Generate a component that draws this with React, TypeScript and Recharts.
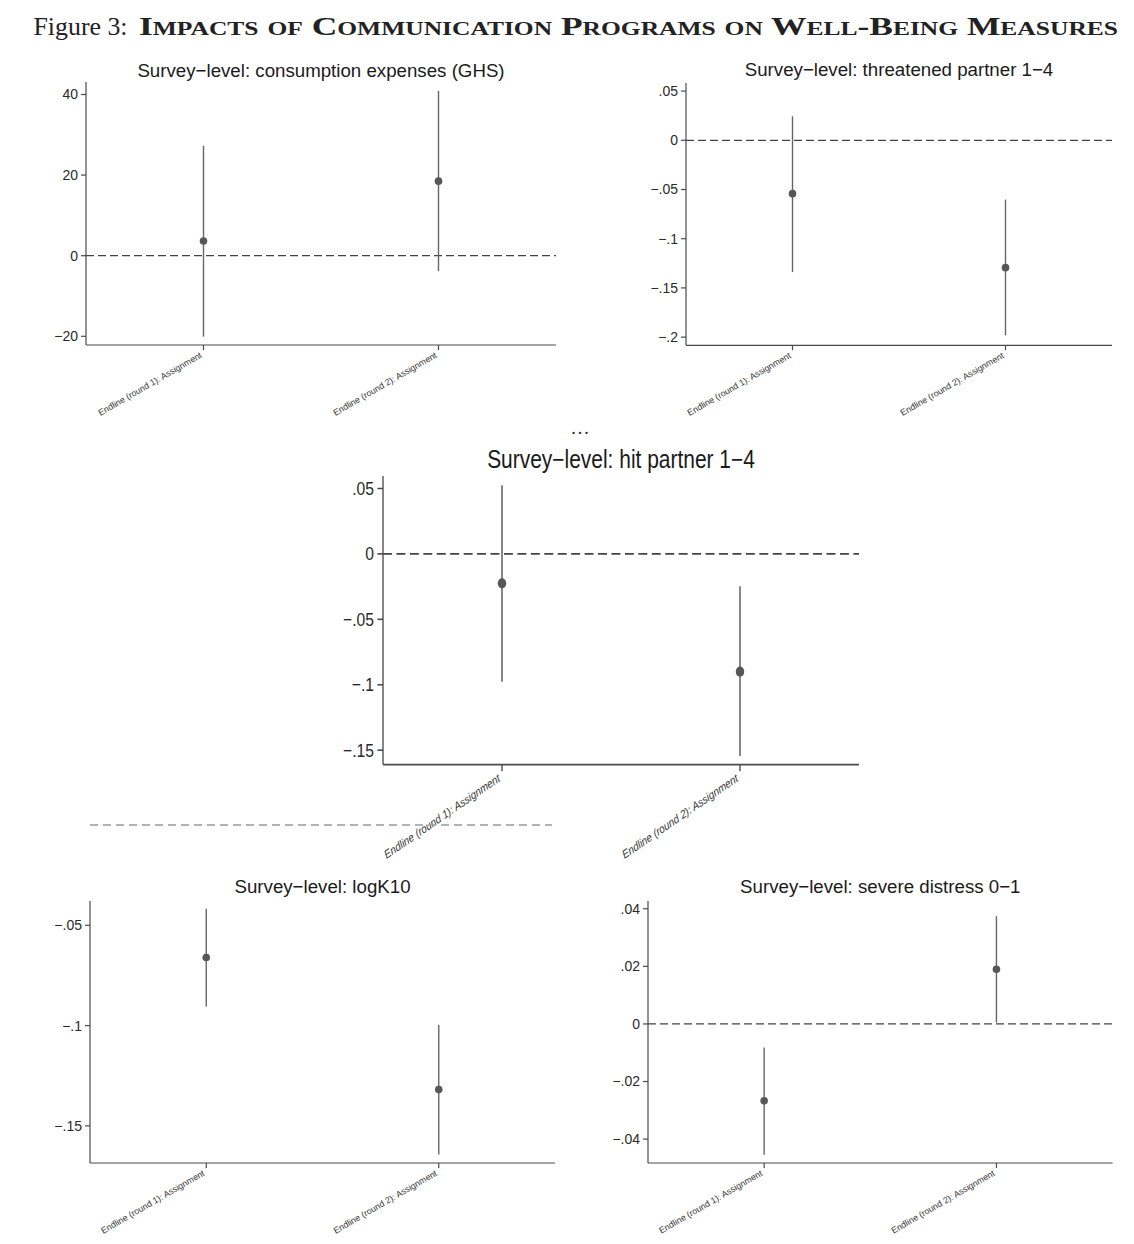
import React from 'react';
import { ComposedChart, Scatter, ErrorBar, XAxis, YAxis, ReferenceLine } from 'recharts';

// categories shared by every panel
const CATEGORIES = ['Endline (round 1): Assignment', 'Endline (round 2): Assignment'];
const CAT_POS = [1, 2];

// consumption expenses (GHS)
const consumptionEst = [3.65, 18.5];
const consumptionLow = [-20.1, -3.8];
const consumptionHigh = [27.3, 40.9];
const consumptionTicks = [-20, 0, 20, 40];

// threatened partner 1-4
const threatenedEst = [-0.0542, -0.1294];
const threatenedLow = [-0.1339, -0.1982];
const threatenedHigh = [0.0244, -0.0603];
const threatenedTicks = [-0.2, -0.15, -0.1, -0.05, 0, 0.05];

// hit partner 1-4
const hitEst = [-0.0225, -0.09];
const hitLow = [-0.0976, -0.1544];
const hitHigh = [0.0524, -0.0248];
const hitTicks = [-0.15, -0.1, -0.05, 0, 0.05];

// logK10
const logK10Est = [-0.0661, -0.1319];
const logK10Low = [-0.0905, -0.1643];
const logK10High = [-0.0418, -0.0997];
const logK10Ticks = [-0.15, -0.1, -0.05];

// severe distress 0-1
const distressEst = [-0.0267, 0.019];
const distressLow = [-0.0454, 0.0005];
const distressHigh = [-0.0082, 0.0374];
const distressTicks = [-0.04, -0.02, 0, 0.02, 0.04];

const SANS = '"Liberation Sans", Arial, Helvetica, sans-serif';
const SERIF = '"Liberation Serif", "Times New Roman", serif';
const AXIS = '#4a4a4a';
const YW = 70; // y axis width
const MT = 6;
const MR = 6;
const XH = 80;

const fmtTick = (v: number) => {
  if (v === 0) return '0';
  const s = Math.abs(v).toString().replace(/^0\./, '.');
  return v < 0 ? '\u2212' + s : s;
};

const buildRows = (est: number[], low: number[], high: number[]) =>
  CAT_POS.map((x, i) => ({ x, est: est[i], err: [est[i] - low[i], high[i] - est[i]] }));

const CatTick = (props: any) => {
  const { x, y, payload, italic } = props;
  const label = CATEGORIES[payload.value - 1];
  return (
    <g transform={`translate(${x - 1},${y + 7}) rotate(-30)`}>
      <text x={0} y={0} textAnchor="end" fontSize={8.8} fill="#333" fontFamily={SANS} fontStyle={italic ? 'italic' : 'normal'}>
        {label}
      </text>
    </g>
  );
};

const Dot = (props: any) => <circle cx={props.cx} cy={props.cy} r={3.8} fill="#575757" />;

interface PanelProps {
  left: number; top: number; w: number; h: number;
  sx?: number; sy?: number;
  title: string; titleDy: number;
  domain: [number, number]; ticks: number[];
  est: number[]; low: number[]; high: number[];
  italic?: boolean;
}

function Panel({ left, top, w, h, sx = 1, sy = 1, title, titleDy, domain, ticks, est, low, high, italic }: PanelProps) {
  const rows = buildRows(est, low, high);
  const zeroInside = domain[0] < 0 && domain[1] > 0;
  return (
    <div style={{ position: 'absolute', left, top, transform: `scale(${sx},${sy})`, transformOrigin: '0 0' }}>
      <svg style={{ position: 'absolute', left: 0, top: titleDy - 30, overflow: 'visible' }} width={w} height={40}>
        <text x={w / 2} y={30} textAnchor="middle" fontSize={18.7} fill="#1a1a1a" fontFamily={SANS}>{title}</text>
      </svg>
      <div style={{ position: 'absolute', left: -YW, top: -MT }}>
        <ComposedChart width={YW + w + MR} height={MT + h + XH} data={rows} margin={{ top: MT, right: MR, left: 0, bottom: 0 }}>
          <XAxis type="number" dataKey="x" domain={[0.5, 2.5]} ticks={CAT_POS} interval={0}
            tick={<CatTick italic={italic} />} tickSize={5} tickMargin={0} height={XH}
            axisLine={{ stroke: AXIS, strokeWidth: 1.2 }} tickLine={{ stroke: AXIS, strokeWidth: 1.2 }} allowDataOverflow />
          <YAxis type="number" dataKey="est" domain={domain} ticks={ticks} interval={0} width={YW} tickFormatter={fmtTick}
            tick={{ fontSize: 14, fill: '#2a2a2a', fontFamily: SANS }} tickSize={5} tickMargin={3}
            axisLine={{ stroke: AXIS, strokeWidth: 1.2 }} tickLine={{ stroke: AXIS, strokeWidth: 1.2 }} allowDataOverflow />
          {zeroInside && <ReferenceLine y={0} stroke="#444" strokeWidth={1.2} strokeDasharray="8 4" />}
          <Scatter dataKey="est" shape={<Dot />} isAnimationActive={false}>
            <ErrorBar dataKey="err" direction="y" width={0} stroke="#666" strokeWidth={1.4} isAnimationActive={false} />
          </Scatter>
        </ComposedChart>
      </div>
    </div>
  );
}

export default function App() {
  return (
    <div style={{ position: 'absolute', left: 0, top: 0, width: 1134, height: 1244, background: '#fff', overflow: 'hidden' }}>
      <svg style={{ position: 'absolute', left: 0, top: 0 }} width={1134} height={50}>
        <text x={33.5} y={35} fontSize={25} fill="#222" fontFamily={SERIF} textLength={94} lengthAdjust="spacingAndGlyphs">Figure 3:</text>
        <text x={139} y={35} fontSize={25} fill="#222" fontFamily={SERIF} fontWeight="bold"
          style={{ fontVariant: 'small-caps' }} textLength={979} lengthAdjust="spacingAndGlyphs">
          Impacts of Communication Programs on Well-Being Measures
        </text>
      </svg>

      <Panel left={86} top={82} w={470} h={263} title={'Survey\u2212level: consumption expenses (GHS)'} titleDy={-5}
        domain={[-22.16, 43.1]} ticks={consumptionTicks} est={consumptionEst} low={consumptionLow} high={consumptionHigh} />
      <Panel left={686} top={82.7} w={426} h={262.3} title={'Survey\u2212level: threatened partner 1\u22124'} titleDy={-6.7}
        domain={[-0.2083, 0.0582]} ticks={threatenedTicks} est={threatenedEst} low={threatenedLow} high={threatenedHigh} />

      <svg style={{ position: 'absolute', left: 0, top: 400 }} width={1134} height={50}>
        <text x={581} y={34} textAnchor="middle" fontSize={18} fill="#222" fontFamily={SERIF} letterSpacing={2}>...</text>
      </svg>
      <Panel left={382.7} top={475.7} w={425} h={217} sx={1.12} sy={1.33} title={'Survey\u2212level: hit partner 1\u22124'} titleDy={-6.5}
        domain={[-0.161, 0.0595]} ticks={hitTicks} est={hitEst} low={hitLow} high={hitHigh} italic />

      <svg style={{ position: 'absolute', left: 0, top: 815 }} width={600} height={20}>
        <line x1={90} y1={10} x2={552} y2={10} stroke="#9a9a9a" strokeWidth={1.4} strokeDasharray="8 5" />
      </svg>

      <Panel left={90} top={900.7} w={465} h={262} title={'Survey\u2212level: logK10'} titleDy={-8}
        domain={[-0.1685, -0.0379]} ticks={logK10Ticks} est={logK10Est} low={logK10Low} high={logK10High} />
      <Panel left={648.4} top={900.7} w={464.6} h={262} title={'Survey\u2212level: severe distress 0\u22121'} titleDy={-8}
        domain={[-0.0483, 0.0427]} ticks={distressTicks} est={distressEst} low={distressLow} high={distressHigh} />
    </div>
  );
}
